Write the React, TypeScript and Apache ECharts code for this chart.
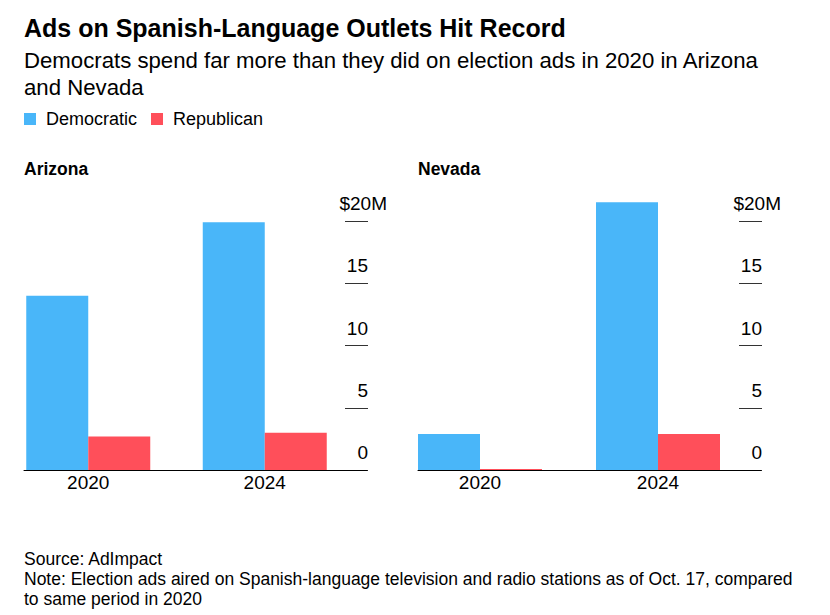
import React, { useEffect, useRef } from "react";
import * as echarts from "echarts";

const categories = ["2020", "2024"];
const arizonaDemocratic = [14.0, 19.9];
const arizonaRepublican = [2.7, 3.0];
const nevadaDemocratic = [2.9, 21.5];
const nevadaRepublican = [0.08, 2.9];
const tickMax = 20;
const tickStep = 5;

const FONT = "'Liberation Sans', Arial, Helvetica, sans-serif";
const BLUE = "#49b6f9";
const RED = "#ff4f5a";

// geometry
const BASE_Y = 470;
const PX_PER_UNIT = 12.45;
const BAR_MAX = 25;

function panel(barLeft: number, baseLeft: number, tickLeft: number) {
  return [
    { left: barLeft, width: 356, top: BASE_Y - BAR_MAX * PX_PER_UNIT, height: BAR_MAX * PX_PER_UNIT },
    { left: baseLeft, width: 343, top: BASE_Y - BAR_MAX * PX_PER_UNIT, height: BAR_MAX * PX_PER_UNIT },
    { left: tickLeft, width: 23, top: BASE_Y - tickMax * PX_PER_UNIT, height: tickMax * PX_PER_UNIT },
  ];
}

export default function App() {
  const ref = useRef<HTMLDivElement>(null);
  useEffect(() => {
    if (!ref.current) return;
    const chart = echarts.init(ref.current, undefined, { renderer: "svg" });
    const az = panel(-3, 24, 345);
    const nv = panel(391, 418, 739);
    const grids = [az[0], nv[0], az[1], nv[1], az[2], nv[2]];

    const catX = (g: number) => ({
      gridIndex: g,
      type: "category",
      data: categories,
      axisLine: { show: false },
      axisTick: { show: false },
      axisLabel: { fontSize: 19, color: "#000", margin: 3, fontFamily: FONT },
    });
    const baseX = (g: number) => ({
      gridIndex: g,
      type: "value",
      min: 0,
      max: 1,
      axisLine: { show: true, onZero: false, lineStyle: { color: "#000", width: 1 } },
      axisTick: { show: false },
      axisLabel: { show: false },
      splitLine: { show: false },
    });
    const hiddenX = (g: number) => ({ gridIndex: g, type: "value", min: 0, max: 1, show: false });
    const barY = (g: number) => ({ gridIndex: g, type: "value", min: 0, max: BAR_MAX, show: false });
    const hiddenY = (g: number) => ({ gridIndex: g, type: "value", min: 0, max: 1, show: false });
    const tickY = (g: number) => ({
      gridIndex: g,
      type: "value",
      min: 0,
      max: tickMax,
      interval: tickStep,
      position: "right",
      offset: 19,
      axisLine: { show: false },
      axisTick: { show: false },
      splitLine: { show: true, lineStyle: { color: "#333", width: 1 } },
      axisLabel: {
        inside: true,
        margin: 0,
        fontSize: 19,
        color: "#000",
        fontFamily: FONT,
        verticalAlign: "bottom",
        padding: [0, 0, 8, 0],
        formatter: (v: number) => (v === tickMax ? `$${v}M` : `{n|${v}}`),
        rich: { n: { fontSize: 19, color: "#000", fontFamily: FONT, padding: [0, 19, 0, 0] } },
      },
    });

    const option: any = {
      animation: false,
      textStyle: { fontFamily: FONT },
      title: [
        {
          text: "Ads on Spanish-Language Outlets Hit Record",
          left: 24,
          top: 15,
          padding: 0,
          textStyle: { fontSize: 25, fontWeight: "bold", color: "#000", fontFamily: FONT },
        },
        {
          text: "Democrats spend far more than they did on election ads in 2020 in Arizona\nand Nevada",
          left: 24,
          top: 47,
          padding: 0,
          textStyle: { fontSize: 22.2, fontWeight: "normal", lineHeight: 27, color: "#000", fontFamily: FONT },
        },
        {
          text: "Arizona",
          left: 24,
          top: 160,
          padding: 0,
          textStyle: { fontSize: 17.5, fontWeight: "bold", color: "#000", fontFamily: FONT },
        },
        {
          text: "Nevada",
          left: 418,
          top: 160,
          padding: 0,
          textStyle: { fontSize: 17.5, fontWeight: "bold", color: "#000", fontFamily: FONT },
        },
        {
          text:
            "Source: AdImpact\nNote: Election ads aired on Spanish-language television and radio stations as of Oct. 17, compared\nto same period in 2020",
          left: 24,
          top: 549,
          padding: 0,
          textStyle: { fontSize: 17.5, fontWeight: "normal", lineHeight: 20, color: "#000", fontFamily: FONT },
        },
      ],
      legend: {
        left: 24,
        top: 110,
        padding: 0,
        itemWidth: 12,
        itemHeight: 12,
        itemGap: 14,
        icon: "rect",
        data: ["Democratic", "Republican"],
        textStyle: { fontSize: 18, color: "#000", fontFamily: FONT, padding: [0, 0, 0, 5] },
      },
      grid: grids,
      xAxis: [catX(0), catX(1), baseX(2), baseX(3), hiddenX(4), hiddenX(5)],
      yAxis: [barY(0), barY(1), hiddenY(2), hiddenY(3), tickY(4), tickY(5)],
      series: [
        { name: "Democratic", type: "bar", xAxisIndex: 0, yAxisIndex: 0, data: arizonaDemocratic, barWidth: 62, barGap: 0, itemStyle: { color: BLUE } },
        { name: "Republican", type: "bar", xAxisIndex: 0, yAxisIndex: 0, data: arizonaRepublican, barWidth: 62, barGap: 0, itemStyle: { color: RED } },
        { name: "Democratic", type: "bar", xAxisIndex: 1, yAxisIndex: 1, data: nevadaDemocratic, barWidth: 62, barGap: 0, itemStyle: { color: BLUE } },
        { name: "Republican", type: "bar", xAxisIndex: 1, yAxisIndex: 1, data: nevadaRepublican, barWidth: 62, barGap: 0, itemStyle: { color: RED } },
      ],
    };
    chart.setOption(option);
    return () => chart.dispose();
  }, []);
  return (
    <div
      ref={ref}
      style={{ position: "absolute", left: 0, top: 0, width: 830, height: 615, background: "#fff" }}
    />
  );
}
